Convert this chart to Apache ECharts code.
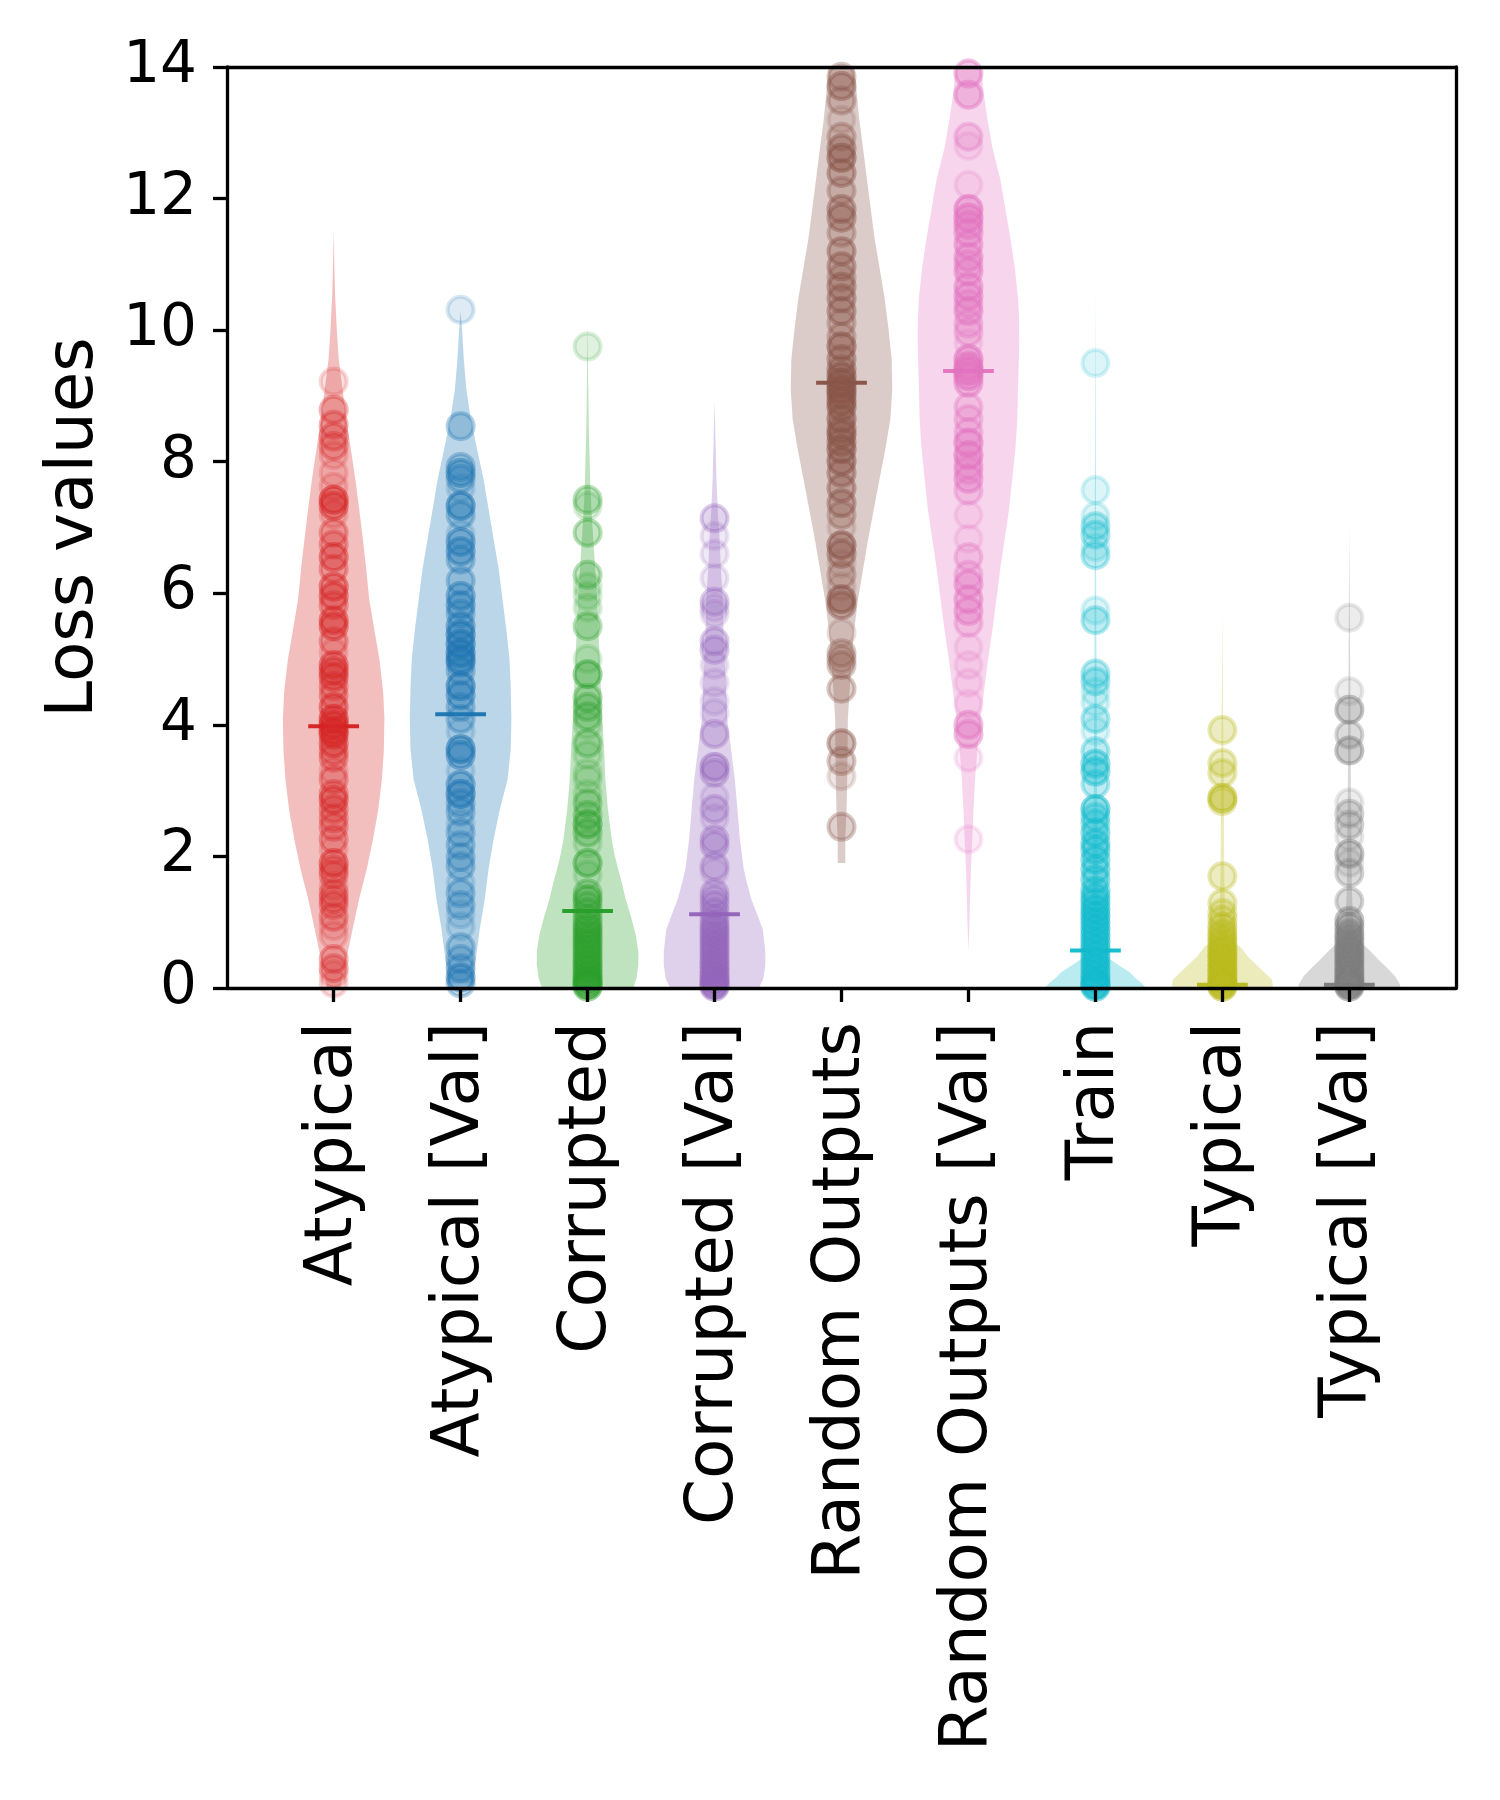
<!DOCTYPE html>
<html lang="en">
<head>
<meta charset="UTF-8">
<title>Loss values violin plot</title>
<script src="https://cdn.jsdelivr.net/npm/echarts@6/dist/echarts.min.js"></script>
<style>
  html, body { margin: 0; padding: 0; background: #fff; }
  #chart { width: 1500px; height: 1800px; }
</style>
</head>
<body>
<div id="chart"></div>
<script>
// categories and tab10 colours
var categories = ['Atypical', 'Atypical [Val]', 'Corrupted', 'Corrupted [Val]', 'Random Outputs',
  'Random Outputs [Val]', 'Train', 'Typical', 'Typical [Val]'];
var colors = ['#d62728', '#1f77b4', '#2ca02c', '#9467bd', '#8c564b', '#e377c2', '#17becf', '#bcbd22', '#7f7f7f'];

// mean markers
var means = [3.98, 4.16, 1.17, 1.12, 9.20, 9.38, 0.57, 0.05, 0.05];

// scatter points per category: [loss value, how many points overlap there]
var ptsAtypical = [[9.22, 1], [8.79, 2], [8.56, 2], [8.38, 2], [8.24, 2], [8.1, 1], [7.83, 1], [7.62, 1], [7.42, 4],
  [7.33, 3], [7.2, 1], [6.92, 2], [6.74, 2], [6.55, 3], [6.37, 2], [6.10, 3], [5.96, 3], [5.82, 2], [5.59, 3],
  [5.50, 3], [5.27, 2], [5.1, 1], [4.91, 3], [4.82, 3], [4.73, 3], [4.59, 2], [4.45, 2], [4.27, 3], [4.09, 4],
  [4.0, 4], [3.91, 4], [3.85, 3], [3.72, 3], [3.60, 2], [3.50, 2], [3.3, 1], [3.17, 2], [2.95, 2], [2.86, 3],
  [2.72, 2], [2.58, 2], [2.45, 2], [2.26, 2], [2.1, 1], [1.90, 3], [1.80, 2], [1.72, 2], [1.55, 1], [1.44, 2],
  [1.35, 2], [1.26, 2], [1.08, 2], [0.94, 1], [0.8, 1], [0.44, 2], [0.30, 2], [0.21, 1], [0.07, 1]];
var ptsAtypicalVal = [[10.31, 1], [8.54, 2], [7.92, 2], [7.83, 3], [7.74, 2], [7.6, 1], [7.33, 4], [7.19, 2],
  [6.9, 1], [6.78, 3], [6.64, 3], [6.51, 2], [6.19, 2], [5.96, 3], [5.82, 3], [5.69, 2], [5.50, 3], [5.37, 4],
  [5.23, 4], [5.09, 4], [5.0, 3], [4.95, 3], [4.82, 2], [4.59, 4], [4.45, 3], [4.27, 2], [4.09, 2], [3.9, 1],
  [3.63, 4], [3.54, 3], [3.3, 1], [3.09, 3], [2.95, 4], [2.81, 2], [2.68, 2], [2.5, 1], [2.36, 2], [2.17, 2],
  [1.99, 2], [1.85, 2], [1.6, 1], [1.44, 2], [1.26, 2], [1.12, 1], [0.94, 1], [0.62, 2], [0.44, 2], [0.30, 2],
  [0.16, 3], [0.07, 2]];
var ptsCorrupted = [[9.75, 1], [7.42, 2], [7.33, 1], [6.92, 2], [6.28, 2], [6.10, 1], [5.96, 1], [5.78, 1], [5.50, 2],
  [5.0, 1], [4.77, 3], [4.41, 2], [4.27, 2], [4.13, 2], [4.0, 1], [3.72, 2], [3.54, 1], [3.27, 1], [3.17, 1],
  [2.95, 1], [2.81, 2], [2.63, 2], [2.49, 3], [2.36, 2], [2.2, 1], [1.90, 3], [1.72, 1], [1.44, 2], [1.35, 3],
  [1.25, 2], [1.15, 2], [1.05, 2], [0.97, 2], [0.9, 3], [0.82, 3], [0.74, 3], [0.66, 3], [0.58, 3], [0.5, 3],
  [0.42, 3], [0.35, 3], [0.28, 3], [0.21, 3], [0.15, 3], [0.1, 3], [0.05, 3], [0.02, 3]];
var ptsCorruptedVal = [[7.14, 2], [6.87, 1], [6.60, 1], [6.23, 1], [5.87, 2], [5.78, 1], [5.69, 1], [5.27, 2],
  [5.14, 2], [4.91, 1], [4.64, 1], [4.36, 1], [4.18, 1], [3.86, 2], [3.36, 3], [3.27, 2], [2.90, 1], [2.72, 2],
  [2.58, 1], [2.26, 2], [2.17, 2], [1.85, 2], [1.76, 1], [1.44, 2], [1.35, 2], [1.26, 2], [1.15, 2], [1.05, 2],
  [0.97, 2], [0.9, 3], [0.82, 3], [0.74, 3], [0.66, 3], [0.58, 3], [0.5, 3], [0.42, 3], [0.35, 3], [0.28, 3],
  [0.21, 3], [0.15, 3], [0.1, 3], [0.05, 3], [0.02, 3]];
var ptsRandom = [[13.85, 2], [13.71, 3], [13.49, 2], [13.2, 1], [12.94, 2], [12.76, 3], [12.62, 4], [12.39, 3],
  [12.12, 2], [11.84, 3], [11.71, 3], [11.48, 2], [11.2, 3], [10.97, 3], [10.8, 2], [10.66, 3], [10.48, 3],
  [10.29, 3], [10.11, 2], [9.9, 2], [9.75, 4], [9.56, 3], [9.4, 3], [9.3, 4], [9.2, 5], [9.1, 5], [9.02, 4],
  [8.92, 4], [8.83, 4], [8.65, 4], [8.5, 3], [8.42, 4], [8.3, 3], [8.19, 4], [8.01, 4], [7.83, 3], [7.6, 3],
  [7.37, 3], [7.19, 2], [7.0, 1], [6.73, 4], [6.6, 3], [6.45, 1], [6.28, 2], [6.1, 1], [5.91, 4], [5.82, 3],
  [5.4, 1], [5.09, 2], [5.0, 2], [4.91, 2], [4.55, 2], [3.72, 3], [3.45, 2], [3.22, 1], [2.45, 2]];
var ptsRandomVal = [[13.9, 3], [13.58, 3], [12.94, 2], [12.8, 1], [12.21, 1], [11.84, 4], [11.71, 4], [11.6, 3],
  [11.48, 3], [11.3, 3], [11.11, 3], [11.0, 2], [10.89, 3], [10.66, 3], [10.52, 3], [10.4, 2], [10.29, 3],
  [10.1, 2], [9.97, 2], [9.8, 1], [9.56, 4], [9.45, 4], [9.38, 5], [9.3, 4], [9.2, 3], [8.83, 2], [8.65, 2],
  [8.45, 2], [8.29, 4], [8.1, 4], [7.95, 2], [7.87, 2], [7.74, 3], [7.56, 2], [7.19, 1], [6.83, 1], [6.55, 2],
  [6.28, 2], [6.14, 3], [5.91, 3], [5.73, 3], [5.55, 2], [5.18, 1], [4.91, 1], [4.64, 1], [4.32, 1], [4.0, 3],
  [3.86, 3], [3.5, 1], [2.26, 1]];
var ptsTrain = [[9.50, 1], [7.57, 1], [7.17, 1], [7.02, 2], [6.89, 2], [6.70, 1], [6.58, 2], [5.74, 1], [5.59, 2],
  [4.78, 2], [4.66, 2], [4.50, 1], [4.34, 1], [4.09, 2], [3.91, 1], [3.60, 2], [3.41, 3], [3.29, 3], [3.10, 2],
  [2.72, 4], [2.6, 2], [2.5, 2], [2.36, 3], [2.2, 3], [2.10, 3], [1.95, 3], [1.80, 3], [1.65, 3], [1.48, 3],
  [1.38, 3], [1.3, 3], [1.2, 4], [1.1, 4], [1.0, 4], [0.9, 4], [0.8, 4], [0.7, 4], [0.6, 4], [0.5, 4], [0.4, 4],
  [0.3, 4], [0.2, 4], [0.12, 4], [0.05, 4], [0.02, 4]];
var ptsTypical = [[3.92, 2], [3.42, 2], [3.27, 2], [2.89, 4], [2.84, 2], [1.70, 2], [1.29, 2], [1.14, 2], [1.04, 2],
  [0.93, 3], [0.83, 3], [0.75, 3], [0.68, 3], [0.6, 4], [0.52, 4], [0.45, 4], [0.38, 4], [0.3, 4], [0.23, 4],
  [0.16, 4], [0.1, 4], [0.05, 4], [0.02, 4]];
var ptsTypicalVal = [[5.63, 1], [4.51, 1], [4.23, 3], [3.85, 2], [3.61, 3], [2.82, 1], [2.65, 2], [2.48, 2],
  [2.30, 1], [2.04, 3], [1.90, 1], [1.75, 2], [1.32, 2], [1.02, 3], [0.93, 3], [0.83, 3], [0.76, 3], [0.68, 3],
  [0.6, 4], [0.52, 4], [0.45, 4], [0.38, 4], [0.3, 4], [0.23, 4], [0.16, 4], [0.1, 4], [0.05, 4], [0.02, 4]];

// violin profiles: [loss value, half width in category units]
var vioAtypical = [[0.0, 0.05], [0.44, 0.10], [0.9, 0.15], [1.35, 0.20], [1.8, 0.26], [2.26, 0.31], [2.7, 0.35],
  [3.17, 0.38], [3.6, 0.395], [4.09, 0.40], [4.5, 0.39], [5.0, 0.36], [5.45, 0.32], [5.91, 0.28], [6.4, 0.255],
  [6.82, 0.23], [7.3, 0.20], [7.74, 0.17], [8.2, 0.135], [8.65, 0.10], [9.1, 0.07], [9.56, 0.04], [10.0, 0.025],
  [10.5, 0.012], [11.0, 0.005], [11.52, 0.0]];
var vioAtypicalVal = [[0.07, 0.10], [0.44, 0.12], [0.89, 0.15], [1.35, 0.19], [1.81, 0.22], [2.26, 0.26],
  [2.72, 0.31], [3.17, 0.37], [3.63, 0.395], [4.09, 0.40], [4.55, 0.395], [5.0, 0.385], [5.45, 0.36],
  [5.91, 0.33], [6.37, 0.30], [6.82, 0.26], [7.28, 0.22], [7.74, 0.18], [8.19, 0.13], [8.65, 0.08],
  [9.1, 0.045], [9.56, 0.025], [10.0, 0.012], [10.29, 0.0]];
var vioCorrupted = [[0.0, 0.36], [0.15, 0.385], [0.35, 0.40], [0.55, 0.40], [0.8, 0.38], [1.1, 0.34], [1.35, 0.30],
  [1.6, 0.27], [1.81, 0.24], [2.05, 0.21], [2.26, 0.19], [2.72, 0.16], [3.17, 0.14], [3.63, 0.13], [4.09, 0.115],
  [4.55, 0.105], [5.0, 0.095], [5.45, 0.085], [5.91, 0.075], [6.37, 0.06], [6.82, 0.045], [7.28, 0.03],
  [7.74, 0.02], [8.5, 0.01], [9.2, 0.005], [10.11, 0.0]];
var vioCorruptedVal = [[0.0, 0.35], [0.15, 0.385], [0.35, 0.40], [0.55, 0.40], [0.89, 0.38], [1.1, 0.34],
  [1.35, 0.29], [1.6, 0.255], [1.81, 0.23], [2.26, 0.20], [2.72, 0.18], [3.17, 0.16], [3.63, 0.13], [4.09, 0.10],
  [4.55, 0.09], [5.0, 0.08], [5.45, 0.07], [5.91, 0.065], [6.37, 0.05], [6.82, 0.04], [7.28, 0.025],
  [7.74, 0.015], [8.3, 0.008], [8.92, 0.0]];
var vioRandom = [[1.9, 0.03], [2.26, 0.03], [2.72, 0.04], [3.17, 0.045], [3.63, 0.048], [4.09, 0.05], [4.55, 0.065],
  [5.0, 0.08], [5.45, 0.10], [5.91, 0.13], [6.37, 0.17], [6.82, 0.21], [7.28, 0.255], [7.74, 0.30], [8.19, 0.345],
  [8.65, 0.385], [9.1, 0.40], [9.56, 0.395], [10.02, 0.37], [10.48, 0.34], [10.94, 0.30], [11.4, 0.26],
  [11.85, 0.23], [12.3, 0.20], [12.76, 0.17], [13.2, 0.14], [13.6, 0.12], [14.0, 0.10]];
var vioRandomVal = [[0.57, 0.0], [1.0, 0.008], [1.35, 0.012], [1.81, 0.02], [2.26, 0.03], [2.72, 0.04], [3.17, 0.052],
  [3.63, 0.07], [4.09, 0.095], [4.55, 0.125], [5.0, 0.155], [5.46, 0.19], [5.91, 0.22], [6.37, 0.25], [6.82, 0.285],
  [7.28, 0.32], [7.74, 0.345], [8.2, 0.37], [8.65, 0.385], [9.1, 0.39], [9.56, 0.397], [9.84, 0.40], [10.2, 0.398],
  [10.5, 0.39], [10.95, 0.365], [11.4, 0.33], [11.85, 0.29], [12.3, 0.25], [12.76, 0.19], [13.2, 0.15],
  [13.6, 0.12], [14.0, 0.10]];
var vioTrain = [[0.0, 0.40], [0.08, 0.36], [0.16, 0.31], [0.24, 0.27], [0.34, 0.19], [0.43, 0.12], [0.5, 0.07],
  [0.6, 0.04], [1.0, 0.028], [1.5, 0.022], [2.0, 0.018], [3.0, 0.013], [4.0, 0.01], [5.0, 0.008], [6.0, 0.006],
  [7.0, 0.005], [8.5, 0.003], [10.6, 0.0]];
var vioTypical = [[0.0, 0.40], [0.13, 0.39], [0.22, 0.34], [0.33, 0.28], [0.48, 0.20], [0.63, 0.14], [0.72, 0.06],
  [0.85, 0.03], [1.2, 0.02], [1.7, 0.015], [2.5, 0.012], [3.0, 0.012], [3.5, 0.009], [4.0, 0.006], [4.8, 0.003],
  [5.71, 0.0]];
var vioTypicalVal = [[0.0, 0.40], [0.05, 0.40], [0.18, 0.36], [0.3, 0.30], [0.43, 0.23], [0.55, 0.17], [0.68, 0.10],
  [0.78, 0.05], [1.0, 0.03], [1.5, 0.02], [2.0, 0.018], [3.0, 0.012], [4.0, 0.01], [5.0, 0.006], [6.0, 0.003],
  [7.03, 0.0]];

var yTicks = [0, 2, 4, 6, 8, 10, 12, 14];

var points = [ptsAtypical, ptsAtypicalVal, ptsCorrupted, ptsCorruptedVal, ptsRandom, ptsRandomVal, ptsTrain, ptsTypical, ptsTypicalVal];
var violins = [vioAtypical, vioAtypicalVal, vioCorrupted, vioCorruptedVal, vioRandom, vioRandomVal, vioTrain, vioTypical, vioTypicalVal];
var positions = categories.map(function (c, i) { return i + 1; });

function rgba(hex, a) {
  var r = parseInt(hex.slice(1, 3), 16), g = parseInt(hex.slice(3, 5), 16), b = parseInt(hex.slice(5, 7), 16);
  return 'rgba(' + r + ',' + g + ',' + b + ',' + a + ')';
}

var FONT = 'DejaVu Sans';
var series = [];

// violin bodies
violins.forEach(function (prof, i) {
  var pos = positions[i];
  series.push({
    type: 'custom',
    z: 1,
    silent: true,
    data: [[pos, 0]],
    renderItem: function (params, api) {
      var right = prof.map(function (p) { return api.coord([pos + p[1], p[0]]); });
      var left = prof.slice().reverse().map(function (p) { return api.coord([pos - p[1], p[0]]); });
      return {
        type: 'polygon',
        shape: { points: right.concat(left) },
        style: { fill: rgba(colors[i], 0.3), stroke: null }
      };
    }
  });
});

// mean lines
series.push({
  type: 'custom',
  z: 2,
  silent: true,
  data: means.map(function (m, i) { return [positions[i], m]; }),
  renderItem: function (params, api) {
    var x = api.value(0), y = api.value(1);
    var a = api.coord([x - 0.2, y]), b = api.coord([x + 0.2, y]);
    return {
      type: 'line',
      shape: { x1: a[0], y1: a[1], x2: b[0], y2: b[1] },
      style: { stroke: colors[params.dataIndex], lineWidth: 4 }
    };
  }
});

// scatter points, each value repeated as many times as it overlaps
points.forEach(function (pts, i) {
  var data = [];
  pts.forEach(function (p) {
    for (var k = 0; k < p[1]; k++) data.push([positions[i], p[0]]);
  });
  series.push({
    type: 'scatter',
    z: 3,
    silent: true,
    symbol: 'circle',
    symbolSize: 26,
    data: data,
    itemStyle: { color: rgba(colors[i], 0.15), borderColor: rgba(colors[i], 0.18), borderWidth: 4, opacity: 1 },
    emphasis: { disabled: true }
  });
});

var axisLine = { show: true, onZero: false, lineStyle: { color: '#000', width: 3.3 } };

var option = {
  backgroundColor: '#fff',
  animation: false,
  grid: { left: 227, top: 67, width: 1229, height: 921, containLabel: false },
  xAxis: [{
    type: 'value', min: 0.16, max: 9.84, z: 10,
    axisLine: axisLine,
    splitLine: { show: false },
    axisTick: { show: true, length: 14, lineStyle: { color: '#000', width: 3.3 }, customValues: positions },
    axisLabel: {
      customValues: positions, rotate: 90, margin: 34, color: '#000', fontFamily: FONT, fontSize: 66,
      formatter: function (v) { return categories[Math.round(v) - 1]; }
    }
  }, {
    type: 'value', min: 0.16, max: 9.84, position: 'top', z: 10,
    axisLine: axisLine, axisTick: { show: false }, axisLabel: { show: false }, splitLine: { show: false }
  }],
  yAxis: [{
    type: 'value', min: 0, max: 14, interval: 2, z: 10,
    name: 'Loss values', nameLocation: 'middle', nameGap: 119, nameRotate: 90,
    nameTextStyle: { color: '#000', fontFamily: FONT, fontSize: 66 },
    axisLine: axisLine,
    splitLine: { show: false },
    axisTick: { show: true, length: 14, lineStyle: { color: '#000', width: 3.3 } },
    axisLabel: {
      color: '#000', fontFamily: FONT, fontSize: 58, margin: 30,
      customValues: yTicks
    }
  }, {
    type: 'value', min: 0, max: 14, position: 'right', z: 10,
    axisLine: axisLine, axisTick: { show: false }, axisLabel: { show: false }, splitLine: { show: false }
  }],
  series: series
};

var myChart = echarts.init(document.getElementById('chart'), null, { renderer: 'canvas' });
myChart.setOption(option);
</script>
</body>
</html>
